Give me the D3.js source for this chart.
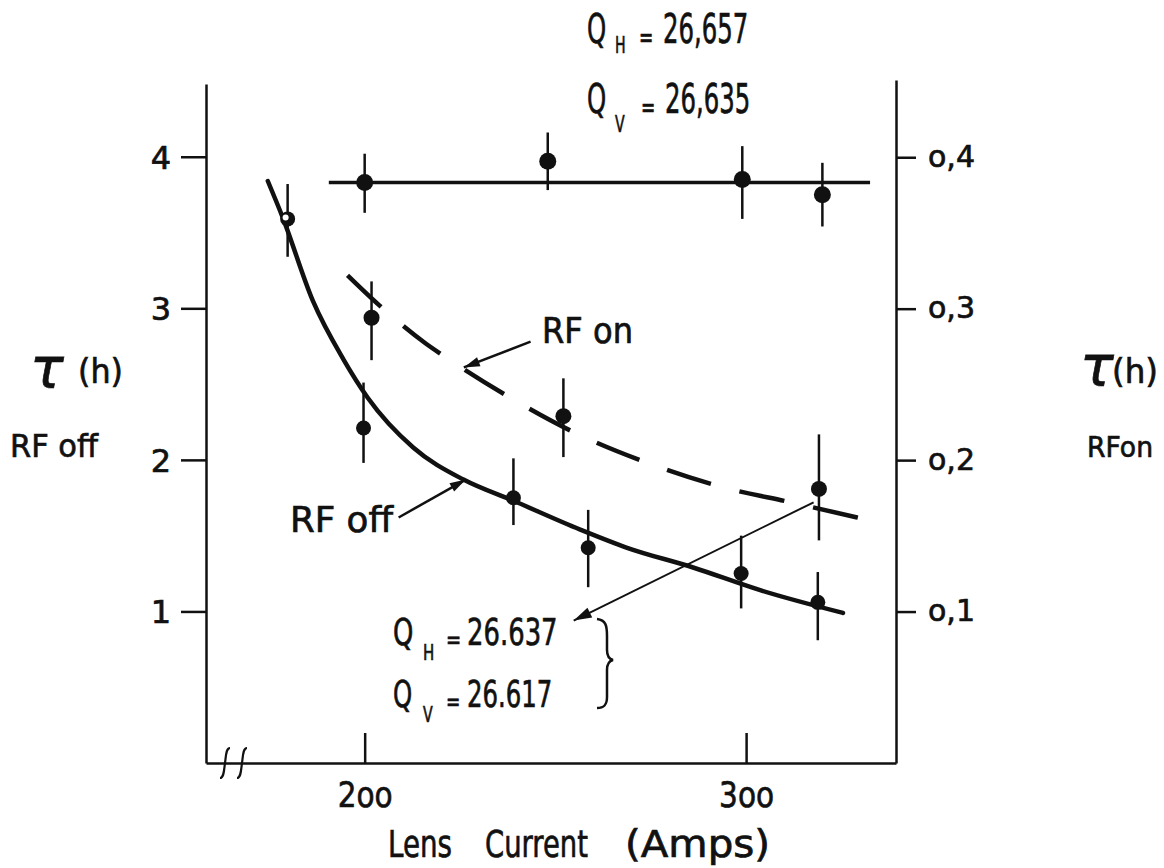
<!DOCTYPE html>
<html>
<head>
<meta charset="utf-8">
<script src="https://cdn.jsdelivr.net/npm/d3@7"></script>
<style>
body { margin: 0; background: #fff; }
text { font-family: "DejaVu Sans", sans-serif; fill: #111; stroke: #111; stroke-width: 0.7px; }
</style>
</head>
<body>
<script>
// axis ticks
var xTicks = [200, 300],
    xTickLabels = ["2oo", "3oo"];
var leftTicks = [1, 2, 3, 4],
    rightTicks = [0.1, 0.2, 0.3, 0.4],
    rightTickLabels = ["o,1", "o,2", "o,3", "o,4"];

// upper set (Q_H = 26,657), left scale
var topAmps = [200, 248, 299, 320],
    topTau = [3.83, 3.97, 3.85, 3.75],
    topLo = [3.63, 3.78, 3.59, 3.54],
    topHi = [4.02, 4.16, 4.07, 3.96];
var topFitAmps = [190.6, 332.5],
    topFitTau = [3.83, 3.83];

// RF off, left scale
var offAmps = [179.8, 199.7, 239, 258.6, 298.7, 318.8],
    offTau = [3.59, 2.21, 1.75, 1.42, 1.25, 1.06],
    offLo = [3.34, 1.98, 1.57, 1.16, 1.02, 0.81],
    offHi = [3.82, 2.51, 2.01, 1.67, 1.50, 1.26];
var offCurveAmps = [174.6, 178.5, 186.4, 194.5, 200.8, 212.8, 225.9, 239.0, 256.5, 268.8, 286.1, 303.7, 325.4],
    offCurveTau = [3.84, 3.60, 3.05, 2.66, 2.41, 2.08, 1.87, 1.73, 1.54, 1.42, 1.29, 1.14, 0.99];

// RF on, right scale
var onAmps = [201.8, 252.1, 319.1],
    onTau = [0.294, 0.229, 0.181],
    onLo = [0.266, 0.202, 0.147],
    onHi = [0.318, 0.254, 0.217];
var onCurveAmps = [195.5, 203.7, 216, 221.2, 239, 256, 274.3, 294, 312, 329.3],
    onCurveTau = [0.322, 0.3025, 0.277, 0.268, 0.240, 0.217, 0.198, 0.182, 0.172, 0.162];

// tune labels
var tuneTop = [["H", "26,657"], ["V", "26,635"]],
    tuneLow = [["H", "26.637"], ["V", "26.617"]];

// annotation arrows [amps, tau(left scale)]: from -> to
var arrowRFon = [[243.5, 2.78], [226.0, 2.61]],
    arrowRFoff = [[208.9, 1.62], [226.5, 1.87]],
    arrowQ = [[317.7, 1.72], [254.8, 0.94]];

var svg = d3.select("body").append("svg")
    .attr("width", 1164)
    .attr("height", 868);

var x = d3.scaleLinear().domain([158.4, 339.3]).range([206, 896]);
var yL = d3.scaleLinear().domain([0, 4.48]).range([763, 84]);
var yR = d3.scaleLinear().domain([0, 0.451]).range([763, 80]);

var defs = svg.append("defs");
function marker(id, w, h) {
  defs.append("marker")
      .attr("id", id)
      .attr("viewBox", "0 0 10 10")
      .attr("refX", 10).attr("refY", 5)
      .attr("markerUnits", "userSpaceOnUse")
      .attr("markerWidth", w).attr("markerHeight", h)
      .attr("orient", "auto")
    .append("path")
      .attr("d", "M0,2L10,5L0,8Z")
      .attr("fill", "#111");
}
marker("arr", 22, 16);
marker("arrBig", 26, 18);

function styleAxis(g) {
  g.attr("font-family", null).attr("font-size", null);
  g.selectAll("path, line").attr("stroke", "#111").attr("stroke-width", 2.5);
}

// bottom axis, ticks pointing up
var gx = svg.append("g")
    .attr("transform", "translate(0,763)")
    .call(d3.axisBottom(x).tickValues(xTicks)
      .tickFormat(function(d, i) { return xTickLabels[i]; })
      .tickSizeInner(-30).tickSizeOuter(0));
styleAxis(gx);
gx.selectAll("text").attr("y", 44).attr("dy", null)
    .attr("font-size", 36).attr("textLength", 55).attr("lengthAdjust", "spacingAndGlyphs");

var gl = svg.append("g")
    .attr("transform", "translate(206,0)")
    .call(d3.axisLeft(yL).tickValues(leftTicks).tickFormat(d3.format("d"))
      .tickSize(25).tickPadding(10).tickSizeOuter(0));
styleAxis(gl);
gl.selectAll("text").attr("font-size", 32).attr("dy", "0.36em");

var gr = svg.append("g")
    .attr("transform", "translate(896,0)")
    .call(d3.axisRight(yR).tickValues(rightTicks)
      .tickFormat(function(d, i) { return rightTickLabels[i]; })
      .tickSize(20).tickPadding(12).tickSizeOuter(0));
styleAxis(gr);
gr.selectAll("text").attr("font-size", 30).attr("dy", "0.3em");

// axis break
[19, 36].forEach(function(dx) {
  var bx = 206 + dx;
  svg.append("path")
      .attr("d", "M" + (bx - 5) + ",778C" + (bx - 1) + ",778 " + (bx - 1) + ",770 " + bx + ",763"
        + "S" + (bx + 1) + ",748 " + (bx + 5) + ",748")
      .attr("fill", "none").attr("stroke", "#111").attr("stroke-width", 2.2);
});

function zip(a, b) { return a.map(function(d, i) { return [d, b[i]]; }); }

// fitted curves
svg.append("path")
    .datum(zip(topFitAmps, topFitTau))
    .attr("d", d3.line().x(function(d) { return x(d[0]); }).y(function(d) { return yL(d[1]); }))
    .attr("fill", "none").attr("stroke", "#111").attr("stroke-width", 3.5);

svg.append("path")
    .datum(zip(offCurveAmps, offCurveTau))
    .attr("d", d3.line().curve(d3.curveMonotoneX)
      .x(function(d) { return x(d[0]); }).y(function(d) { return yL(d[1]); }))
    .attr("fill", "none").attr("stroke", "#111").attr("stroke-width", 4.5)
    .attr("stroke-linecap", "round");

var onPath = svg.append("path")
    .datum(zip(onCurveAmps, onCurveTau))
    .attr("d", d3.line().curve(d3.curveMonotoneX)
      .x(function(d) { return x(d[0]); }).y(function(d) { return yR(d[1]); }))
    .attr("fill", "none").attr("stroke", "#111").attr("stroke-width", 4.5);
// fit the dash pattern so the curve starts and ends on a dash
var onLen = onPath.node().getTotalLength(),
    dash = 46,
    nDash = Math.round((onLen + 25) / (dash + 25)),
    gap = (onLen - nDash * dash) / (nDash - 1);
onPath.attr("stroke-dasharray", dash + "," + gap);

// points with error bars
function points(amps, tau, lo, hi, y, r) {
  var g = svg.append("g");
  g.selectAll("line").data(amps).enter().append("line")
      .attr("x1", function(d) { return x(d); }).attr("x2", function(d) { return x(d); })
      .attr("y1", function(d, i) { return y(lo[i]); })
      .attr("y2", function(d, i) { return y(hi[i]); })
      .attr("stroke", "#111").attr("stroke-width", 2.5);
  g.selectAll("circle").data(amps).enter().append("circle")
      .attr("cx", function(d) { return x(d); })
      .attr("cy", function(d, i) { return y(tau[i]); })
      .attr("r", r).attr("fill", "#111");
  return g;
}
points(topAmps, topTau, topLo, topHi, yL, 8.5);
var offG = points(offAmps, offTau, offLo, offHi, yL, 7.5);
points(onAmps, onTau, onLo, onHi, yR, 8);
// first RF off point is drawn hollow-ish
offG.append("circle")
    .attr("cx", x(offAmps[0]) - 2).attr("cy", yL(offTau[0]) - 1.5)
    .attr("r", 3).attr("fill", "#fff");

// arrows
function arrow(pts, w, id) {
  svg.append("line")
      .attr("x1", x(pts[0][0])).attr("y1", yL(pts[0][1]))
      .attr("x2", x(pts[1][0])).attr("y2", yL(pts[1][1]))
      .attr("stroke", "#111").attr("stroke-width", w)
      .attr("marker-end", "url(#" + id + ")");
}
arrow(arrowRFon, 2.5, "arr");
arrow(arrowRFoff, 2.5, "arr");
arrow(arrowQ, 2, "arrBig");

// brace
svg.append("path")
    .attr("d", "M597,619C606,620 607,626 607,636L607,650C607,656 609,659 613,660"
      + "C609,661 607,664 607,670L607,697C607,705 604,708 597,708")
    .attr("fill", "none").attr("stroke", "#111").attr("stroke-width", 2.5);

// texts
function label(px, py, s, size, w, anchor) {
  var t = svg.append("text")
      .attr("x", px).attr("y", py)
      .attr("font-size", size)
      .attr("text-anchor", anchor || "start")
      .text(s);
  if (w) t.attr("textLength", w).attr("lengthAdjust", "spacingAndGlyphs");
  return t;
}

// Q_x = value, one text element, squeezed horizontally like the lettering
function tune(px, py, sub, val, size, sx, subDx, subDy, eqDx, valDx) {
  var t = svg.append("text")
      .attr("transform", "translate(" + px + "," + py + ") scale(" + sx + ",1)")
      .attr("font-size", size);
  t.append("tspan").attr("x", 0).attr("y", 0).text("Q");
  t.append("tspan").attr("x", subDx / sx).attr("y", subDy)
      .attr("font-size", size * 0.58).text(sub);
  t.append("tspan").attr("x", eqDx / sx).attr("y", size * 0.1)
      .attr("font-size", size * 0.7).text("=");
  t.append("tspan").attr("x", valDx / sx).attr("y", 0).text(val);
}
tune(587, 43, tuneTop[0][0], tuneTop[0][1], 40, 0.61, 28, 10, 52, 76);
tune(587, 113, tuneTop[1][0], tuneTop[1][1], 40, 0.61, 28, 19, 54, 78);
tune(393, 645, tuneLow[0][0], tuneLow[0][1], 37, 0.7, 30, 15, 53, 74);
tune(393, 707, tuneLow[1][0], tuneLow[1][1], 37, 0.66, 30, 15, 53, 74);

label(542, 343, "RF on", 35, 91);
label(290, 532, "RF off", 35, 103);

label(388, 857, "Lens", 37, 64);
label(485, 857, "Current", 37, 103);
label(625, 857, "(Amps)", 37, 145);

label(30, 388, "τ", 56).attr("font-family", "DejaVu Serif").attr("font-style", "italic").attr("stroke-width", 0);
label(78, 383, "(h)", 34, 45);
label(10, 457, "RF off", 32, 88);
label(1080, 386, "τ", 56).attr("font-family", "DejaVu Serif").attr("font-style", "italic").attr("stroke-width", 0);
label(1112, 383, "(h)", 33, 46);
label(1087, 457, "RFon", 29, 66);
</script>
</body>
</html>
